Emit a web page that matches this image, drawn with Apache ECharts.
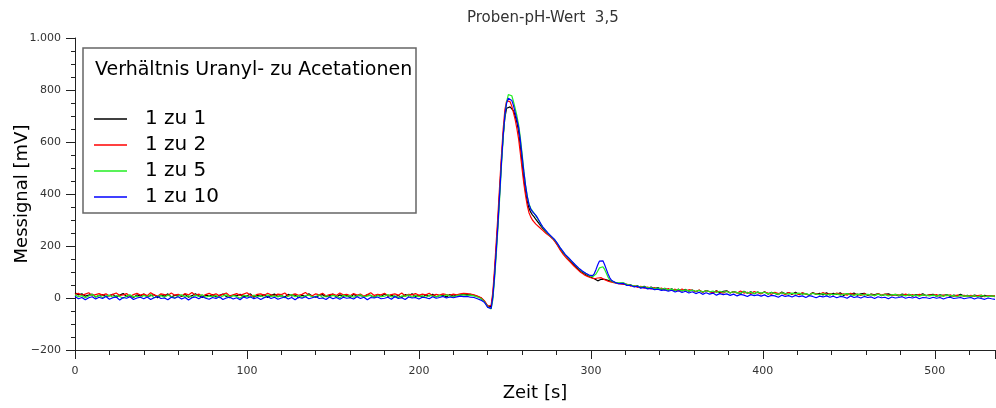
<!DOCTYPE html>
<html><head><meta charset="utf-8">
<script src="https://cdn.jsdelivr.net/npm/echarts@6/dist/echarts.min.js"></script>
<style>html,body{margin:0;padding:0;background:#fff}#c{width:996px;height:408px}</style>
</head><body><div id="c"></div>
<script>
// Time axis [s]
const time = [
0,2,4,6,8,10,12,14,16,18,
20,22,24,26,28,30,32,34,36,38,
40,42,44,46,48,50,52,54,56,58,
60,62,64,66,68,70,72,74,76,78,
80,82,84,86,88,90,92,94,96,98,
100,102,104,106,108,110,112,114,116,118,
120,122,124,126,128,130,132,134,136,138,
140,142,144,146,148,150,152,154,156,158,
160,162,164,166,168,170,172,174,176,178,
180,182,184,186,188,190,192,194,196,198,
200,202,204,206,208,210,212,214,216,218,
220,222,224,226,228,230,232,234,236,
237,
238,239,240,241,242,243,244,245,246,247,
248,249,250,251,252,253,254,255,256,257,
258,259,260,261,262,263,264,265,266,267,
268,269,270,271,272,273,274,275,276,277,
278,279,280,281,282,283,284,285,286,287,
288,289,290,291,292,293,294,295,296,297,
298,299,300,301,302,303,304,305,306,307,
308,309,310,311,312,313,314,315,316,
319,321,323,325,327,329,331,333,335,337,
339,341,343,345,347,349,351,353,355,357,
359,361,363,365,367,369,371,373,375,377,
379,381,383,385,387,389,391,393,395,397,
399,401,403,405,407,409,411,413,415,417,
419,421,423,425,427,429,431,433,435,437,
439,441,443,445,447,449,451,453,455,457,
459,461,463,465,467,469,471,473,475,477,
479,481,483,485,487,489,491,493,495,497,
499,501,503,505,507,509,511,513,515,517,
519,521,523,525,527,529,531,533,535
];

const seriesNames = ['1 zu 1','1 zu 2','1 zu 5','1 zu 10'];

const ratio1 = [
20,12,16,7,11,15,4,10,13,6,
9,14,3,11,17,6,10,2,12,8,
15,5,9,13,1,11,7,16,4,10,
12,6,14,3,9,16,8,2,11,7,
13,4,10,15,6,1,12,9,14,5,
8,16,3,11,7,13,2,10,15,6,
9,4,14,8,12,1,11,6,16,7,
3,10,13,5,9,15,4,12,7,11,
2,14,8,10,5,13,9,3,12,6,
15,7,11,4,10,2,13,8,16,6,
10,3,12,8,14,5,9,11,4,13,
7,10,12,15,13,14,10,6,1,
-6,
-12,-22,-30,-36,-34,10,95,195,300,415,
530,625,695,730,735,735,732,720,700,675,
640,585,520,460,410,372,345,330,320,312,
302,294,285,276,268,260,252,246,240,233,
228,220,210,200,190,180,172,165,158,150,
143,136,128,121,115,108,103,98,94,90,
86,83,80,78,74,70,66,68,72,74,
72,70,68,66,64,62,60,58,57,
56,49,51,44,47,40,45,37,42,36,
40,33,37,30,35,28,34,27,33,26,
31,24,30,22,29,25,21,28,20,26,
28,19,25,21,17,26,18,24,16,23,
17,24,15,22,18,13,23,16,21,14,
22,13,19,16,11,21,14,18,12,20,
12,18,14,20,10,17,13,19,11,16,
18,10,15,12,17,9,14,16,11,13,
8,15,11,14,7,13,10,16,9,12,
14,7,12,9,13,6,11,8,14,7,
10,5,11,8,4,10,6,9,5
];

const ratio2 = [
14,18,10,15,20,9,13,17,11,16,
8,14,19,10,12,17,6,13,18,11,
15,9,20,12,7,16,13,10,19,11,
14,8,17,12,21,10,15,7,13,18,
11,16,9,14,19,8,12,17,10,15,
20,11,7,14,16,10,18,12,9,15,
13,19,8,12,16,10,14,21,11,9,
16,12,18,8,13,15,10,19,12,14,
9,17,11,15,7,13,20,10,14,12,
18,9,13,16,11,19,8,14,12,17,
10,15,12,18,9,14,11,16,13,10,
15,12,16,18,17,15,12,7,2,
-4,
-10,-20,-32,-38,-28,25,115,220,325,440,
550,650,725,758,762,755,738,712,685,650,
610,555,495,440,395,355,328,312,300,292,
284,278,272,266,260,254,248,243,238,232,
226,219,208,197,186,176,167,160,152,145,
138,131,124,117,111,104,99,94,90,86,
83,80,78,76,74,75,77,80,78,74,
70,67,65,63,61,60,58,56,55,
52,53,46,48,41,45,38,42,35,40,
33,38,31,36,29,34,27,35,26,32,
29,25,31,22,28,24,20,27,23,19,
26,20,24,18,27,19,22,17,25,20,
16,23,19,14,22,17,20,13,21,16,
18,14,20,15,12,19,16,13,21,14,
17,12,19,14,16,11,18,13,15,10,
16,12,14,9,17,11,15,12,10,14,
12,9,15,10,13,8,14,11,9,12,
10,13,7,11,9,12,6,11,8,10,
7,10,6,9,11,5,8,7,9
];

const ratio5 = [
12,5,9,1,8,13,4,10,2,7,
11,3,9,6,-1,8,12,4,7,2,
10,5,13,1,7,9,3,11,6,0,
8,12,4,9,2,11,6,13,3,7,
5,10,1,8,12,4,9,6,-1,10,
7,3,11,5,9,2,12,6,8,4,
10,1,7,13,5,9,3,8,11,4,
6,12,2,9,5,10,7,1,11,6,
9,3,8,12,4,7,11,2,10,5,
7,13,4,9,1,8,6,12,3,10,
5,9,2,11,7,4,10,6,12,8,
4,9,11,12,10,11,8,4,-2,
-8,
-14,-24,-34,-40,-42,-5,75,170,275,390,
510,615,700,755,782,788,778,755,728,700,
665,615,555,490,435,392,362,345,335,326,
316,305,294,282,272,263,256,248,242,236,
230,223,214,204,194,184,175,167,160,153,
147,140,133,126,119,113,107,102,98,94,
90,86,83,82,84,92,104,116,122,120,
110,95,80,70,65,62,60,58,56,
58,52,50,47,46,42,43,39,40,36,
38,34,36,31,34,29,33,28,31,27,
30,26,29,23,28,24,27,21,26,22,
25,20,24,21,18,25,19,22,17,23,
19,22,16,21,18,14,20,17,15,19,
16,19,14,17,12,18,15,13,17,11,
15,13,16,11,14,17,12,10,15,13,
11,14,12,9,15,10,13,8,12,14,
10,12,8,13,9,11,7,12,10,8,
11,7,10,6,12,8,9,5,10,7,
8,6,9,4,10,7,5,8,6
];

const ratio10 = [
6,-3,2,-7,1,5,-4,3,-2,6,
-5,1,4,-8,2,-1,5,-6,0,3,
-3,4,-6,1,6,-2,0,-7,3,-1,
5,-4,2,-8,1,4,-3,6,-1,-5,
2,-2,5,-6,0,3,-4,1,-7,4,
-1,5,-3,2,-6,1,6,-2,3,-5,
0,4,-4,2,-7,3,-1,5,-3,1,
6,-2,0,-6,4,-3,2,-5,3,-1,
1,-4,5,-2,3,-7,2,0,4,-3,
-1,3,-5,6,-2,1,-6,4,0,2,
-4,3,1,-3,5,-1,2,6,0,4,
1,4,7,5,6,3,2,-3,-8,
-12,
-16,-26,-36,-42,-40,5,85,185,290,405,
520,625,705,750,768,770,760,740,712,685,
655,605,545,485,432,390,360,342,332,325,
318,308,296,284,274,266,258,250,243,237,
231,224,215,205,195,186,177,168,161,155,
148,141,134,127,121,115,109,104,99,95,
91,88,85,86,94,110,128,142,148,143,
128,110,92,78,68,63,60,57,55,
56,48,49,43,45,38,41,35,37,32,
34,29,31,26,30,23,28,21,26,19,
24,17,22,14,20,15,19,11,17,13,
16,10,15,8,14,11,6,13,9,12,
7,12,5,10,8,3,11,6,9,4,
10,5,8,2,9,6,1,7,4,8,
3,7,1,6,4,-1,8,2,5,0,
6,2,4,-2,5,1,3,-3,4,0,
2,5,-1,3,0,4,-3,2,1,-2,
3,-1,2,-4,1,3,-2,0,2,-3,
0,2,-4,1,-2,-5,0,-3,-5
];

const colors = ['#000000','#ff0000','#22ee22','#0000ff'];
const allValues = [ratio1, ratio2, ratio5, ratio10];

const FONT = 'DejaVu Sans';
const chart = echarts.init(document.getElementById('c'), null, {renderer:'canvas'});

function fmtY(v){
  const s = Math.abs(v).toString().replace(/\B(?=(\d{3})+(?!\d))/g,'.');
  return (v < 0 ? '\u2212' : '') + s;
}

chart.setOption({
  animation:false,
  backgroundColor:'#ffffff',
  textStyle:{fontFamily:FONT},
  title:{
    text:'Proben-pH-Wert  3,5',
    left:462, top:6,
    textStyle:{fontFamily:FONT,fontSize:15,fontWeight:'normal',color:'#333'}
  },
  grid:{left:75,right:1,top:38,bottom:58,containLabel:false,outerBoundsMode:'none'},
  xAxis:{
    type:'value', min:0, max:535, interval:100,
    name:'Zeit [s]', nameLocation:'middle', nameGap:34,
    nameTextStyle:{fontFamily:FONT,fontSize:18,color:'#000'},
    axisLine:{onZero:false,lineStyle:{color:'#222',width:1}},
    axisTick:{show:true,length:9,lineStyle:{color:'#222'}},
    minorTick:{show:true,splitNumber:5,length:5,lineStyle:{color:'#222'}},
    splitLine:{show:false},
    axisLabel:{fontFamily:FONT,fontSize:11,color:'#333',margin:16,showMaxLabel:false}
  },
  yAxis:{
    type:'value', min:-200, max:1000, interval:200,
    name:'Messignal [mV]', nameLocation:'middle', nameGap:44, nameMoveOverlap:false,
    nameTextStyle:{fontFamily:FONT,fontSize:18,color:'#000'},
    axisLine:{show:true,lineStyle:{color:'#222',width:1}},
    axisTick:{show:true,length:9,lineStyle:{color:'#222'}},
    minorTick:{show:true,splitNumber:4,length:4,lineStyle:{color:'#222'}},
    splitLine:{show:false},
    axisLabel:{fontFamily:FONT,fontSize:11,color:'#333',margin:14,formatter:fmtY}
  },
  legend:{
    data:seriesNames,
    orient:'vertical', left:94, top:109, padding:0,
    icon:'rect', itemWidth:33, itemHeight:1.5, itemGap:6,
    textStyle:{fontFamily:FONT,fontSize:20,color:'#000',padding:[0,0,0,13]},
    z:10
  },
  graphic:[
    {type:'rect', z:0, shape:{x:83,y:48,width:333,height:165},
     style:{fill:'#fff',stroke:'#666',lineWidth:1.5}},
    {type:'text', z:10, x:95, y:70,
     style:{text:'Verhältnis Uranyl- zu Acetationen', fontFamily:FONT, fontSize:19, fill:'#000', verticalAlign:'middle'}}
  ],
  series: allValues.map((vals,k)=>({
    name:seriesNames[k], type:'line', showSymbol:false, symbol:'none',
    data: time.map((t,i)=>[t, vals[i]]),
    lineStyle:{color:colors[k], width:1.2},
    itemStyle:{color:colors[k]},
    z:2+k
  }))
});
</script></body></html>
